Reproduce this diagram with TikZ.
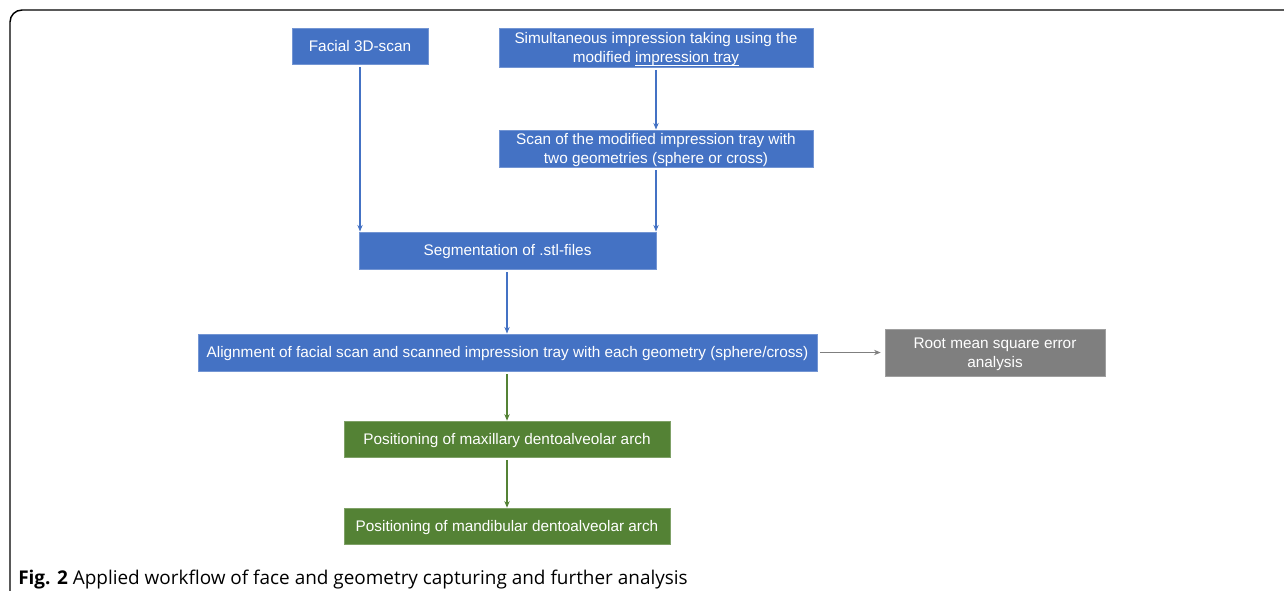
\documentclass[tikz,border=0pt]{standalone}
\usepackage{fontspec}
\setmainfont{Liberation Sans}
\newfontfamily\capfont{Open Sans}
\usetikzlibrary{arrows.meta,positioning}
\definecolor{stepblue}{HTML}{4472C4}
\definecolor{stepgreen}{HTML}{548235}
\definecolor{stepgray}{HTML}{7F7F7F}
% underlined words in a box
\newsavebox\ulnbox
\newcommand\uln[1]{\sbox\ulnbox{#1}\rlap{\rule[-2.3pt]{\wd\ulnbox}{0.6pt}}\usebox\ulnbox}
\tikzset{
  flowbox/.style={rectangle, inner sep=0pt, align=center, text=white,
    font=\fontsize{11.5}{14.5}\selectfont, line width=0.4pt,
    text height=9pt, text depth=0.8pt},
  twolines/.style={text height=23.5pt},
  bluebox/.style={flowbox, fill=stepblue, draw=stepblue!75!white},
  greenbox/.style={flowbox, fill=stepgreen, draw=stepgreen!75!white},
  graybox/.style={flowbox, fill=stepgray, draw=stepgray!75!white},
  flowarrow/.style={->, line width=1.2pt, shorten <=2pt},
}

\begin{document}
\begin{tikzpicture}[x=0.75pt, y=-0.75pt, >={Stealth[length=5pt,width=4pt]}]
  \useasboundingbox (0,0) rectangle (1284,590);
  % figure frame, cut off at right and bottom
  \draw[line width=1.1pt, rounded corners=9pt] (10,600) -- (10,10) -- (1300,10);
  % boxes
  \node[bluebox, minimum width=102pt, minimum height=27pt] (fscan) at (360,46) {Facial 3D-scan};
  \node[bluebox, twolines, minimum width=235.5pt, minimum height=29pt] (tray) at (656,47.5)
    {Simultaneous impression taking using the\\modified \uln{impression tray}};
  \node[bluebox, twolines, minimum width=235.5pt, minimum height=28pt] (tscan) at (656,148.5)
    {Scan of the modified impression tray with\\two geometries (sphere or cross)};
  \node[bluebox, minimum width=223pt, minimum height=28pt] (seg) at (507.5,250.5) {Segmentation of .stl-files};
  \node[bluebox, minimum width=464pt, minimum height=28pt] (align) at (507.5,352.5)
    {Alignment of facial scan and scanned impression tray with each geometry (sphere/cross)};
  \node[graybox, twolines, minimum width=165pt, minimum height=35pt] (rmse) at (995,352.5)
    {Root mean square error\\analysis};
  \node[greenbox, minimum width=244.5pt, minimum height=27pt] (maxi) at (507,439)
    {Positioning of maxillary dentoalveolar arch};
  \node[greenbox, minimum width=244.5pt, minimum height=27pt] (mand) at (507,526)
    {Positioning of mandibular dentoalveolar arch};
  % connectors
  \draw[flowarrow, stepblue] (fscan.south) -- (fscan.south |- seg.north);
  \draw[flowarrow, stepblue] (tray) -- (tscan);
  \draw[flowarrow, stepblue] (tscan.south) -- (tscan.south |- seg.north);
  \draw[flowarrow, stepblue] (maxi.north |- seg.south) -- (maxi.north |- align.north);
  \draw[flowarrow, stepgray, line width=0.9pt, shorten >=3pt] (align) -- (rmse);
  \draw[flowarrow, stepgreen] (maxi.north |- align.south) -- (maxi);
  \draw[flowarrow, stepgreen] (maxi) -- (mand);
  % caption
  \node[anchor=base west, inner sep=0pt, font=\capfont\fontsize{14.2}{16}\selectfont] (caption) at (18,584)
    {\textbf{Fig. 2} Applied workflow of face and geometry capturing and further analysis};
\end{tikzpicture}
\end{document}
